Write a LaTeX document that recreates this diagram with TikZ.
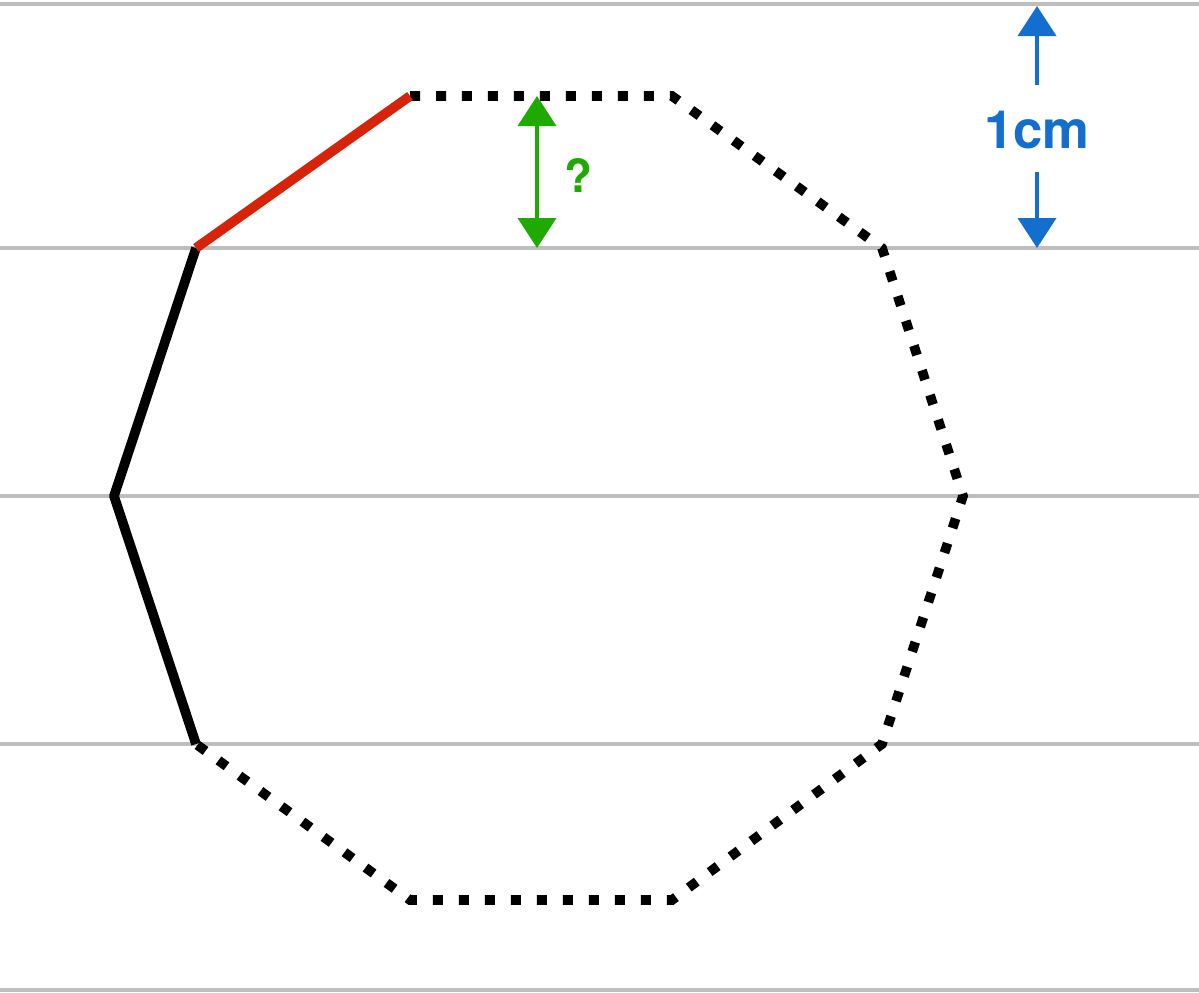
\documentclass[tikz,border=0pt]{standalone}
\usepackage{fontspec}
\setsansfont{TeX Gyre Heros}
\usetikzlibrary{arrows.meta}
\definecolor{rulegray}{RGB}{190,190,190}
\definecolor{edgered}{RGB}{215,35,10}
\definecolor{qgreen}{RGB}{30,170,0}
\definecolor{cmblue}{RGB}{20,110,205}
\begin{document}
\begin{tikzpicture}[x=0.02cm,y=-0.02cm,
rule/.style={rulegray,line width=2.5pt},
solidedge/.style={black,line width=5.5pt,line join=round},
dotedge/.style={black,line width=5.5pt,dash pattern=on 0.2cm off 0.32cm},
dim/.style={line width=2.2pt,-{Triangle[width=0.76cm,length=0.6cm]}},
lbl/.style={font=\sffamily\bfseries}
]
    \useasboundingbox (0,0) rectangle (1199,992);
    % ruled lines
    \foreach \y in {4,248,496,744,990}
        \draw[rule] (0,\y) -- (1199,\y);
    % octagon corners
    \coordinate (P1) at (410,96);
    \coordinate (P2) at (672,96);
    \coordinate (P3) at (882,248);
    \coordinate (P4) at (963,496);
    \coordinate (P5) at (882,744);
    \coordinate (P6) at (672,900);
    \coordinate (P7) at (410,900);
    \coordinate (P8) at (196,744);
    \coordinate (P9) at (114,496);
    \coordinate (P10) at (196,248);
    \draw[dotedge] (P1) -- (P2) -- (P3) -- (P4) -- (P5) -- (P6) -- (P7) -- (P8);
    \draw[solidedge] (P8) -- (P9) -- (P10);
    \draw[edgered,line width=5.5pt] (P10) -- (P1);
    % green question
    \coordinate (G1) at (537,96);
    \coordinate (G2) at (537,248);
    \draw[qgreen,dim,{Triangle[width=0.76cm,length=0.6cm]}-{Triangle[width=0.76cm,length=0.6cm]}] (G1) -- (G2);
    \node(Q)[lbl,qgreen,font=\sffamily\bfseries\fontsize{26}{26}\selectfont] at (578,175){?};
    % blue unit
    \node(U)[lbl,cmblue,font=\sffamily\bfseries\fontsize{30}{30}\selectfont] at (1037,130){1cm};
    \coordinate (B1) at (1037,6);
    \coordinate (B2) at (1037,248);
    \draw[cmblue,dim] (U.north |- 0,85) -- (B1);
    \draw[cmblue,dim] (U.south |- 0,172) -- (B2);
\end{tikzpicture}
\end{document}
